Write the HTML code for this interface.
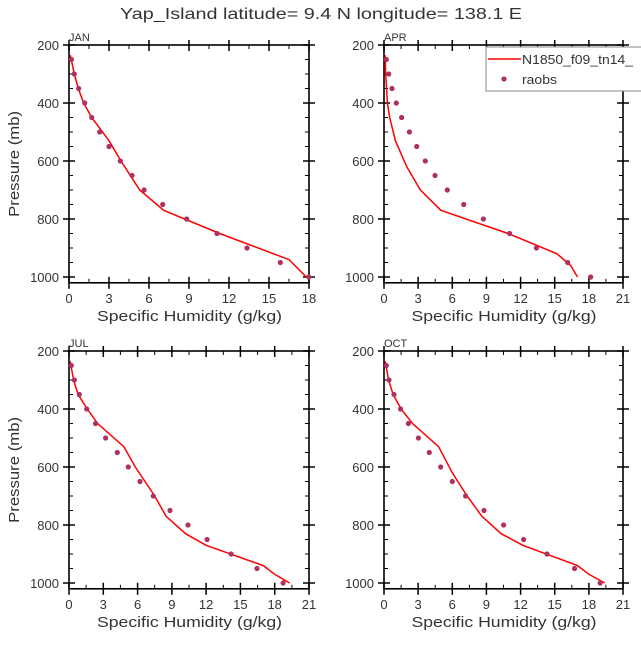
<!DOCTYPE html>
<html><head><meta charset="utf-8"><style>
html,body{margin:0;padding:0;background:#fff;}
svg text{font-family:"Liberation Sans",sans-serif;fill:#333;}
</style></head><body>
<svg id="s" width="641" height="641" xmlns="http://www.w3.org/2000/svg">
<text x="120" y="19" font-size="16" textLength="402" lengthAdjust="spacingAndGlyphs" fill="#555">Yap_Island  latitude= 9.4 N longitude= 138.1 E</text>
</svg>
<script>
const S=document.getElementById('s');
let h='';
const P=[250,300,350,400,450,500,550,600,650,700,750,800,850,900,950,1000];
const panels=[
 {x0:69,x1:309,yt:45,xmax:18,name:'JAN',ylab:true,
  pts:[0.18,0.4,0.73,1.18,1.7,2.3,3.0,3.85,4.73,5.63,7.03,8.83,11.1,13.35,15.85,17.98],
  line:[[235,0.1],[300,0.4],[350,0.7],[400,1.1],[450,1.7],[530,3.0],[600,3.9],[700,5.3],[770,7.1],[850,11.3],[940,16.5],[1000,17.8]]},
 {x0:384,x1:623,yt:45,xmax:21,name:'APR',ylab:false,
  pts:[0.2,0.41,0.7,1.08,1.55,2.23,2.87,3.63,4.48,5.56,7.0,8.73,11.04,13.39,16.14,18.16],
  line:[[235,0.1],[300,0.15],[400,0.3],[450,0.5],[530,1.0],[620,2.0],[700,3.2],[770,5.0],[850,10.9],[920,15.2],[960,16.4],[1000,17.0]]},
 {x0:69,x1:309,yt:351,xmax:21,name:'JUL',ylab:true,
  pts:[0.2,0.47,0.9,1.55,2.33,3.2,4.23,5.19,6.21,7.38,8.84,10.41,12.08,14.18,16.45,18.73],
  line:[[235,0.1],[300,0.4],[350,0.8],[400,1.6],[450,2.5],[530,4.8],[600,5.8],[700,7.5],[770,8.5],[830,10.2],[870,12.0],[940,17.0],[970,18.0],[1000,19.3]]},
 {x0:384,x1:623,yt:351,xmax:21,name:'OCT',ylab:false,
  pts:[0.2,0.44,0.88,1.46,2.14,3.02,3.98,4.98,6.0,7.17,8.79,10.51,12.27,14.32,16.75,19.0],
  line:[[235,0.1],[300,0.4],[350,0.8],[400,1.5],[450,2.5],[530,4.8],[620,6.0],[700,7.3],[770,8.6],[830,10.3],[870,12.2],[940,17.0],[970,18.0],[1000,19.4]]}
];
for(const p of panels){
 const sy=232/800, Y=v=>p.yt+(v-200)*sy, X=v=>p.x0+(p.x1-p.x0)*v/p.xmax;
 const yb=Y(1020);
 h+=`<rect x="${p.x0}" y="${p.yt}" width="${p.x1-p.x0}" height="${yb-p.yt}" fill="none" stroke="#000" stroke-width="1.6"/>`;
 for(let v=200;v<=1000;v+=50){const y=Y(v).toFixed(1);const maj=v%200==0;
  if(maj){h+=`<line x1="${p.x0-6}" y1="${y}" x2="${p.x0+6}" y2="${y}" stroke="#000" stroke-width="1.5"/><line x1="${p.x1-6}" y1="${y}" x2="${p.x1+6}" y2="${y}" stroke="#000" stroke-width="1.5"/>`;
   h+=`<text x="${p.x0-10}" y="${+y+5}" font-size="13" text-anchor="end">${v}</text>`;}
  else h+=`<line x1="${p.x0}" y1="${y}" x2="${p.x0+4}" y2="${y}" stroke="#000"/><line x1="${p.x1-4}" y1="${y}" x2="${p.x1}" y2="${y}" stroke="#000"/>`;}
 for(let v=0;v<=p.xmax+0.01;v+=1.5){const x=X(v).toFixed(1);const maj=Math.abs(v%3)<0.01;
  if(maj){h+=`<line x1="${x}" y1="${yb-6}" x2="${x}" y2="${yb+6}" stroke="#000" stroke-width="1.5"/><line x1="${x}" y1="${p.yt-5}" x2="${x}" y2="${p.yt+6}" stroke="#000" stroke-width="1.5"/>`;
   h+=`<text x="${x}" y="${yb+20}" font-size="13" text-anchor="middle">${v}</text>`;}
  else h+=`<line x1="${x}" y1="${yb-4}" x2="${x}" y2="${yb}" stroke="#000"/><line x1="${x}" y1="${p.yt}" x2="${x}" y2="${p.yt+4}" stroke="#000"/>`;}
 h+=`<text x="${p.x0}" y="${p.yt-4}" font-size="11">${p.name}</text>`;
 const cx=(p.x0+p.x1)/2;
 h+=`<text x="${cx-92}" y="${yb+38}" font-size="15" textLength="185" lengthAdjust="spacingAndGlyphs" fill="#555">Specific Humidity (g/kg)</text>`;
 if(p.ylab){const cy=(p.yt+yb)/2;h+=`<text x="19" y="${cy}" font-size="15" text-anchor="middle" textLength="106" lengthAdjust="spacingAndGlyphs" fill="#555" transform="rotate(-90 19 ${cy})">Pressure (mb)</text>`;}
 h+=`<polyline fill="none" stroke="#f00" stroke-width="1.5" points="${p.line.map(a=>X(a[1]).toFixed(1)+','+Y(a[0]).toFixed(1)).join(' ')}"/>`;
 p.pts.forEach((v,i)=>{h+=`<circle cx="${X(v).toFixed(1)}" cy="${Y(P[i]).toFixed(1)}" r="2.6" fill="#b03060"/>`;});
}
h+=`<rect x="486" y="47" width="170" height="44" fill="#fff" stroke="#888" stroke-width="1"/>`;
h+=`<line x1="488" y1="59" x2="521" y2="59" stroke="#f00" stroke-width="1.5"/><text x="522" y="64" font-size="13" textLength="111" lengthAdjust="spacingAndGlyphs">N1850_f09_tn14_</text>`;
h+=`<circle cx="504" cy="79" r="2.6" fill="#b03060"/><text x="522" y="84" font-size="13" textLength="35" lengthAdjust="spacingAndGlyphs">raobs</text>`;
S.insertAdjacentHTML('beforeend',h);
</script>
</body></html>
